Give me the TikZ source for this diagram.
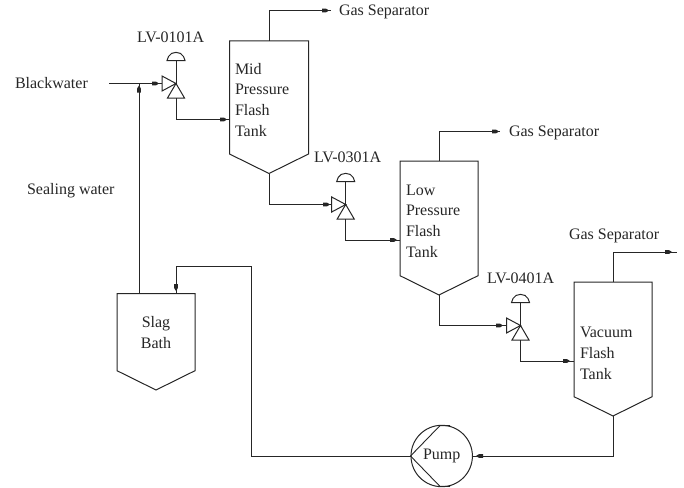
\documentclass[tikz,border=0pt]{standalone}
\usepackage{fontspec}
\setmainfont{Liberation Serif}
\definecolor{ink}{HTML}{262626}
\tikzset{
  pipe/.style={draw=ink,line width=1pt,line join=miter},
  lbl/.style={inner sep=0pt,outer sep=0pt,text=ink,font=\fontsize{16}{20.6}\selectfont,anchor=base west},
  lblc/.style={lbl,anchor=base,align=center},
  lbll/.style={lbl,align=left},
  pumpbody/.style={circle,draw=ink,line width=1pt,minimum size=61.4pt,inner sep=0pt,font=\fontsize{16}{20}\selectfont,text=ink},
  flowfill/.style={fill=ink,draw=none}
}
% tank: name, left, right, top, shoulder, bottom
\newcommand{\tankshape}[6]{%
  \pgfmathsetmacro{\tankmid}{(#2+#3)/2}
  \coordinate (#1-top) at (\tankmid,#4);
  \coordinate (#1-bottom) at (\tankmid,#6);
  \draw[pipe] (#2,#4) -- (#3,#4) -- (#3,#5) -- (#1-bottom) -- (#2,#5) -- cycle;
}
% valve: name, x, y (apex of the triangles)
\newcommand{\valveshape}[3]{%
  \coordinate (#1-c) at (#2,#3);
  \coordinate (#1-in) at ({#2-14},#3);
  \coordinate (#1-out) at (#2,{#3+14.5});
  \draw[pipe] (#1-c) -- ({#2-14},{#3-7.5}) -- ({#2-14},{#3+7.5}) -- cycle;
  \draw[pipe] (#1-c) -- ({#2+8.5},{#3+14.5}) -- ({#2-8.5},{#3+14.5}) -- cycle;
  \draw[pipe] (#1-c) -- (#2,{#3-23});
  \draw[pipe] ({#2-9},{#3-23}) -- ({#2+9},{#3-23}) -- ({#2+7.5},{#3-27})
     .. controls ({#2+5},{#3-32.5}) and ({#2-5},{#3-32.5}) .. ({#2-7.5},{#3-27}) -- cycle;
}
\newcommand{\flowmark}[3]{%
  \fill[flowfill,shift={(#1,#2)},rotate=#3] (-3,-1.9) -- (1,-1.9) -- (4,0) -- (1,1.9) -- (-3,1.9) -- cycle;
}
\begin{document}
\begin{tikzpicture}[x=1pt,y=-1pt]
\useasboundingbox (0,0) rectangle (684,487);
% vessels
\tankshape{mid}{229.5}{308.5}{41}{154}{173.5}
\tankshape{low}{400}{478}{161}{275.7}{295}
\tankshape{vac}{574}{652}{282}{396.7}{416}
\tankshape{slag}{117}{195}{293.7}{370.7}{390}
\valveshape{va}{176}{83.5}
\valveshape{vb}{345.7}{204.5}
\valveshape{vc}{520.5}{325.5}
\node[pumpbody] (pump) at (441.7,456) {Pump};
% coordinates of free ends and junctions
\coordinate (bw) at (109,83.5);
\coordinate (seal) at (139,83.5);
\coordinate (gasa) at (331,10.5);
\coordinate (gasb) at (500,131.5);
\coordinate (gasc) at (677,252);
\coordinate (midin) at (229.5,119.5);
\coordinate (lowin) at (400,240);
\coordinate (vacin) at (574,361);
\coordinate (slagin) at (176,293.7);
\coordinate (slagup) at (139,293.7);
% pump impeller
\draw[pipe,line width=0.9pt] (pump.west) -- (440,425.6) -- (450,425.6);
\draw[pipe,line width=0.9pt] (pump.west) -- (440,486.4) -- (450,486.4);
% connectors
\draw[pipe] (bw) -- (va-in);
\draw[pipe] (slagup) -- (seal);
\draw[pipe] (va-out) |- (midin);
\draw[pipe] (mid-bottom) |- (vb-in);
\draw[pipe] (vb-out) |- (lowin);
\draw[pipe] (low-bottom) |- (vc-in);
\draw[pipe] (vc-out) |- (vacin);
\draw[pipe] (mid-top) |- (gasa);
\draw[pipe] (low-top) |- (gasb);
\draw[pipe] (vac-top) |- (gasc);
\draw[pipe] (vac-bottom) |- (pump.east);
\draw[pipe] (pump.west) -| (251.5,266) -| (slagin);
% flow marks
\flowmark{155}{83.5}{0}
\flowmark{139}{89.5}{90}
\flowmark{223}{119.5}{0}
\flowmark{325}{10.5}{0}
\flowmark{326}{204.5}{0}
\flowmark{393}{240}{0}
\flowmark{495}{131.5}{0}
\flowmark{499}{325.5}{0}
\flowmark{566}{361}{0}
\flowmark{668}{252}{0}
\flowmark{480}{456}{180}
\flowmark{176}{287}{-90}
% labels
\node[lbl] (lblbw) at (15,88) {Blackwater};
\node[lbl] (lblseal) at (27,194) {Sealing water};
\node[lbl] (lblva) at (137,42.6) {LV-0101A};
\node[lbl] (lblvb) at (314,162.6) {LV-0301A};
\node[lbl] (lblvc) at (487,283) {LV-0401A};
\node[lbl] (lblga) at (339,16) {Gas Separator};
\node[lbl] (lblgb) at (509,136) {Gas Separator};
\node[lbl] (lblgc) at (569,239) {Gas Separator};
\node[lbll] (txtmid) at (235,136) {Mid\\Pressure\\Flash\\Tank};
\node[lbll] (txtlow) at (406,257) {Low\\Pressure\\Flash\\Tank};
\node[lbll] (txtvac) at (580,379) {Vacuum\\Flash\\Tank};
\node[lblc] (txtslag) at (156,348) {Slag\\Bath};
\end{tikzpicture}
\end{document}
